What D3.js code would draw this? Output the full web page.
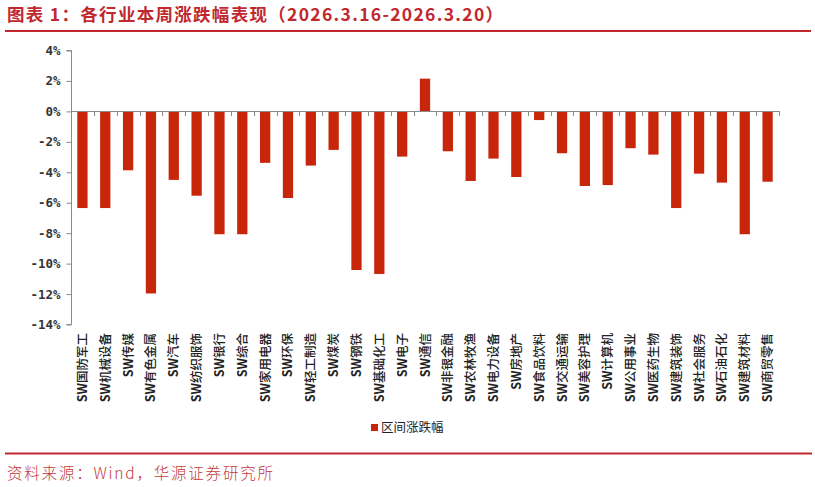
<!DOCTYPE html>
<html>
<head>
<meta charset="utf-8">
<script src="https://cdn.jsdelivr.net/npm/d3@7/dist/d3.min.js"></script>
<style>
  html, body { margin: 0; padding: 0; background: #fff; }
  svg { display: block; }
</style>
</head>
<body>
<svg id="chart" width="815" height="487"></svg>
<script>
const categories = ["SW国防军工","SW机械设备","SW传媒","SW有色金属","SW汽车","SW纺织服饰","SW银行","SW综合","SW家用电器","SW环保","SW轻工制造","SW煤炭","SW钢铁","SW基础化工","SW电子","SW通信","SW非银金融","SW农林牧渔","SW电力设备","SW房地产","SW食品饮料","SW交通运输","SW美容护理","SW计算机","SW公用事业","SW医药生物","SW建筑装饰","SW社会服务","SW石油石化","SW建筑材料","SW商贸零售"];
const values = [-6.35,-6.35,-3.87,-11.96,-4.5,-5.54,-8.07,-8.07,-3.38,-5.69,-3.56,-2.53,-10.42,-10.68,-2.97,2.15,-2.62,-4.57,-3.1,-4.31,-0.57,-2.75,-4.9,-4.84,-2.42,-2.84,-6.35,-4.09,-4.68,-8.07,-4.62];
const yTicks = [4,2,0,-2,-4,-6,-8,-10,-12,-14];
const seriesName = "区间涨跌幅";
const titleText = "图表 1：各行业本周涨跌幅表现（2026.3.16-2026.3.20）";
const sourceText = "资料来源：Wind，华源证券研究所";

const svg = d3.select("#chart");
const red = "#c0282e";
const barColor = "#c8260a";
const axisColor = "#8a8a8a";

// Title
svg.append("text")
  .attr("x", 7).attr("y", 21)
  .attr("font-family", "'Noto Sans CJK SC', sans-serif")
  .attr("font-weight", "bold")
  .attr("font-size", 17.5)
  .attr("fill", red)
  .attr("textLength", 496)
  .attr("lengthAdjust", "spacing")
  .text(titleText);
svg.append("line")
  .attr("x1", 5).attr("x2", 811).attr("y1", 31).attr("y2", 31)
  .attr("stroke", red).attr("stroke-width", 2);

// Scales
const x = d3.scaleBand().domain(categories).range([71, 779]).paddingInner(0.55).paddingOuter(0.275);
const y = d3.scaleLinear().domain([-14, 4]).range([324.5, 50.5]);

// Bars
svg.append("g").selectAll("rect").data(values).join("rect")
  .attr("x", (d, i) => x(categories[i]))
  .attr("width", x.bandwidth())
  .attr("y", d => y(Math.max(0, d)))
  .attr("height", d => Math.abs(y(d) - y(0)))
  .attr("fill", barColor);

// Y axis
const yAxis = d3.axisLeft(y).tickValues(yTicks).tickSize(5).tickPadding(6)
  .tickFormat(d => (d < 0 ? "-" : "") + Math.abs(d) + "%");
const gy = svg.append("g").attr("transform", "translate(71.5,0)").call(yAxis);
gy.select(".domain").attr("stroke", axisColor).attr("d", `M-5,${y(4)}H0V${y(-14)}H-5`);
gy.selectAll(".tick line").attr("stroke", axisColor);
gy.selectAll(".tick text")
  .attr("font-family", "'DejaVu Sans Mono', monospace")
  .attr("font-weight", "bold")
  .attr("font-size", 12.5)
  .attr("fill", "#333");

// Zero line with category ticks
const gx = svg.append("g");
gx.append("line").attr("x1", 71).attr("x2", 779).attr("y1", Math.round(y(0)) + 0.5).attr("y2", Math.round(y(0)) + 0.5)
  .attr("stroke", axisColor).attr("stroke-width", 1);
const boundaries = categories.map((c, i) => i + 1);
gx.selectAll("line.tk").data(boundaries).join("line").attr("class", "tk")
  .attr("x1", i => Math.round(71 + x.step() * i) + 0.5)
  .attr("x2", i => Math.round(71 + x.step() * i) + 0.5)
  .attr("y1", Math.round(y(0)))
  .attr("y2", Math.round(y(0)) + 5)
  .attr("stroke", axisColor);

// Category labels
const lbl = svg.append("g").selectAll("text").data(categories).join("text")
  .attr("transform", d => `translate(${x(d) + x.bandwidth() / 2},333) rotate(-90)`)
  .attr("text-anchor", "end")
  .attr("dy", "0.36em")
  .attr("font-family", "'Noto Sans CJK SC', sans-serif")
  .attr("font-size", 12.5)
  .attr("font-weight", 500)
  .attr("fill", "#222");
lbl.append("tspan").attr("font-weight", "bold").text(d => d.slice(0, 2));
lbl.append("tspan").text(d => d.slice(2));

// Legend
const lg = svg.append("g");
lg.append("rect").attr("x", 371).attr("y", 424).attr("width", 7).attr("height", 7).attr("fill", barColor);
lg.append("text").attr("x", 381).attr("y", 428).attr("dy", "0.35em")
  .attr("font-family", "'Noto Sans CJK SC', sans-serif")
  .attr("font-size", 12.5).attr("fill", "#222")
  .text(seriesName);

// Footer
svg.append("line")
  .attr("x1", 5).attr("x2", 812).attr("y1", 453.5).attr("y2", 453.5)
  .attr("stroke", red).attr("stroke-width", 2);
svg.append("text")
  .attr("x", 7).attr("y", 479)
  .attr("font-family", "'Noto Sans CJK SC', sans-serif")
  .attr("font-weight", 300)
  .attr("font-size", 15.5)
  .attr("fill", "#c5383c")
  .attr("textLength", 266)
  .attr("lengthAdjust", "spacing")
  .text(sourceText);
</script>
</body>
</html>
